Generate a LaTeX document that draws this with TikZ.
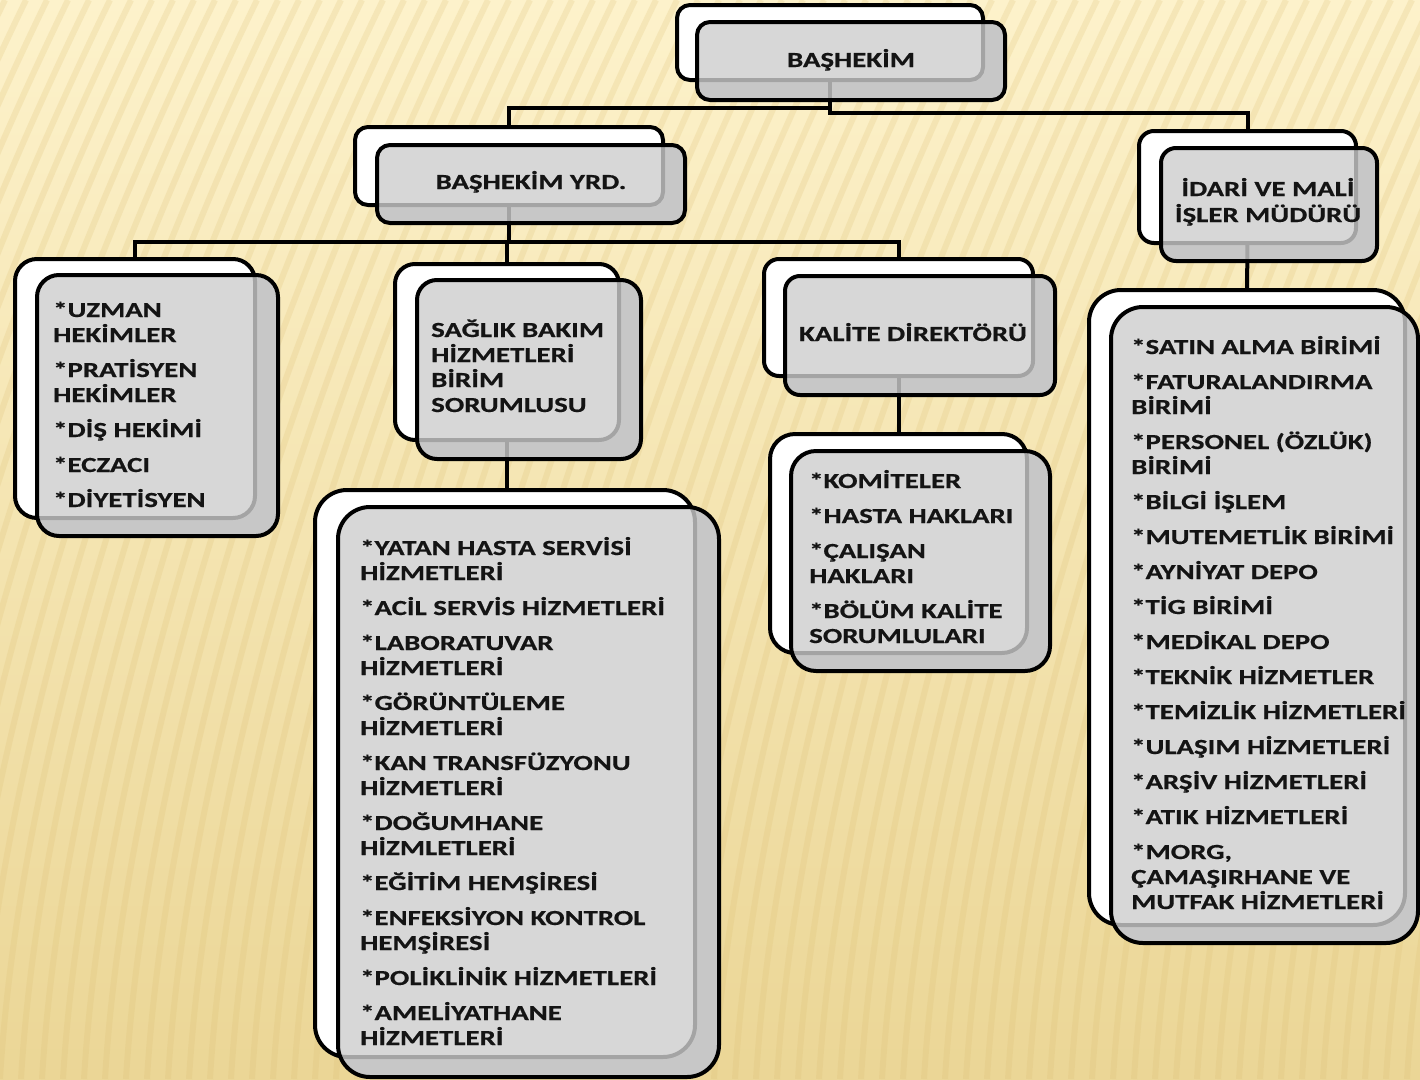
\documentclass[tikz,border=0pt]{standalone}
\usepackage{fontspec}
\setmainfont{Carlito}[FakeStretch=1.34, BoldFeatures={FakeBold=0.6}]
\usetikzlibrary{calc}
\definecolor{bgtop}{HTML}{FDF2CB}
\definecolor{bgmid}{HTML}{FBEBBD}
\definecolor{bgbot}{HTML}{EBD696}
\definecolor{stripe}{HTML}{DDBF74}
\definecolor{boxgray}{HTML}{CDCDCD}
\definecolor{undergray}{HTML}{B3B3B3}
\definecolor{txt}{HTML}{141414}
\tikzset{
  backbox/.style={draw=black, line width=4pt, fill=white, rounded corners=#1,
    inner sep=0pt, outer sep=0pt, anchor=north west},
  underbox/.style={fill=undergray, rounded corners=#1,
    inner sep=0pt, outer sep=0pt, anchor=north west},
  frontface/.style={draw=black, line width=4pt, fill=boxgray, fill opacity=0.8,
    rounded corners=#1},
  conn/.style={draw=black, line width=4pt},
  lbl/.style={font=\fontsize{21.5}{25}\selectfont\bfseries, text=txt, inner sep=0pt},
}
\newcommand{\lst}[1]{\parbox[t]{330pt}{\raggedright\fontsize{21.5}{25}\selectfont\bfseries #1}}
\begin{document}
\begin{tikzpicture}[x=1pt,y=-1pt]
\useasboundingbox (0,0) rectangle (1420,1079);
\begin{scope}
\clip (0,0) rectangle (1420,1079);
\shade[top color=bgtop, middle color=bgmid, bottom color=bgbot] (0,0) rectangle (1420,1079);
\foreach \i in {-20,...,80}{
  \draw[stripe, line width=6pt, opacity=0.22]
    (\i*21,1079) .. controls (\i*21+20,750) and (\i*21+150,350) .. (\i*21+320,0);
}

% front boxes (solid underlay, named)
\node[underbox=13pt, minimum width=308pt, minimum height=78pt] (ftop) at (697,22) {};
\node[underbox=13pt, minimum width=308pt, minimum height=78pt] (fyrd) at (377,145) {};
\node[underbox=15pt, minimum width=216pt, minimum height=113pt] (fidari) at (1161,148) {};
\node[underbox=22pt, minimum width=241pt, minimum height=261pt] (fleft) at (37,275) {};
\node[underbox=20pt, minimum width=224pt, minimum height=179pt] (fsag) at (417,280) {};
\node[underbox=15pt, minimum width=270pt, minimum height=119pt] (fkal) at (785,276) {};
\node[underbox=25pt, minimum width=259pt, minimum height=220pt] (fkom) at (791,451) {};
\node[underbox=32pt, minimum width=381pt, minimum height=570pt] (fsl) at (338,507) {};
\node[underbox=32pt, minimum width=307pt, minimum height=636pt] (fright) at (1111,307) {};

% back boxes
\node[backbox=13pt, minimum width=306pt, minimum height=75pt] (btop) at (677,5) {};
\node[backbox=13pt, minimum width=308pt, minimum height=78pt] (byrd) at (355,127) {};
\node[backbox=15pt, minimum width=217pt, minimum height=112pt] (bidari) at (1139,131) {};
\node[backbox=22pt, minimum width=240pt, minimum height=259pt] (bleft) at (15,259) {};
\node[backbox=20pt, minimum width=224pt, minimum height=176pt] (bsag) at (395,264) {};
\node[backbox=15pt, minimum width=269pt, minimum height=117pt] (bkal) at (764,259) {};
\node[backbox=25pt, minimum width=257pt, minimum height=219pt] (bkom) at (770,434) {};
\node[backbox=32pt, minimum width=380pt, minimum height=567pt] (bsl) at (315,490) {};
\node[backbox=32pt, minimum width=316pt, minimum height=635pt] (bright) at (1089,290) {};

% connectors
\coordinate (j1) at (830,108);
\coordinate (j2) at (830,113);
\coordinate (j3) at (509,242);
\draw[conn] (btop.south) -- (j2) -| (bidari.north);
\draw[conn] (byrd.north) |- (j1);
\draw[conn] (byrd.south) -- (j3);
\draw[conn] (bleft.north) |- (j3) -| (bkal.north);
\draw[conn] (bsag.north) -- (bsag.north |- j3);
\draw[conn] (bsag.south) -- (bsag.south |- bsl.north);
\draw[conn] (bkal.south) -- (bkom.north);
\draw[conn] (bidari.south) -- (bright.north);

% front faces (translucent)
\draw[frontface=13pt] (ftop.north west) rectangle (ftop.south east);
\draw[frontface=13pt] (fyrd.north west) rectangle (fyrd.south east);
\draw[frontface=15pt] (fidari.north west) rectangle (fidari.south east);
\draw[frontface=22pt] (fleft.north west) rectangle (fleft.south east);
\draw[frontface=20pt] (fsag.north west) rectangle (fsag.south east);
\draw[frontface=15pt] (fkal.north west) rectangle (fkal.south east);
\draw[frontface=25pt] (fkom.north west) rectangle (fkom.south east);
\draw[frontface=32pt] (fsl.north west) rectangle (fsl.south east);
\draw[frontface=32pt] (fright.north west) rectangle (fright.south east);
\end{scope}

% texts
\node[lbl, anchor=base] (ttop) at (851,67) {BAŞHEKİM};
\node[lbl, anchor=base] (tyrd) at (531,189) {BAŞHEKİM YRD.};
\node[lbl, anchor=base] (tidari1) at (1268,196) {İDARİ VE MALİ};
\node[lbl, anchor=base] (tidari2) at (1268,222) {İŞLER MÜDÜRÜ};
\node[lbl, anchor=base] (tkal) at (913,341) {KALİTE DİREKTÖRÜ};
\node[lbl, anchor=base west] (tsag) at (431,337)
  {\lst{SAĞLIK BAKIM\\HİZMETLERİ\\BİRİM\\SORUMLUSU}};
\node[lbl, anchor=base west] (tleft) at (53,317)
  {\lst{*UZMAN\\HEKİMLER\\[10pt]*PRATİSYEN\\HEKİMLER\\[10pt]*DİŞ HEKİMİ\\[10pt]*ECZACI\\[10pt]*DİYETİSYEN}};
\node[lbl, anchor=base west] (tkom) at (809,488)
  {\lst{*KOMİTELER\\[10pt]*HASTA HAKLARI\\[10pt]*ÇALIŞAN\\HAKLARI\\[10pt]*BÖLÜM KALİTE\\SORUMLULARI}};
\node[lbl, anchor=base west] (tsl) at (360,555)
  {\lst{*YATAN HASTA SERVİSİ\\HİZMETLERİ\\[10pt]*ACİL SERVİS HİZMETLERİ\\[10pt]*LABORATUVAR\\HİZMETLERİ\\[10pt]*GÖRÜNTÜLEME\\HİZMETLERİ\\[10pt]*KAN TRANSFÜZYONU\\HİZMETLERİ\\[10pt]*DOĞUMHANE\\HİZMLETLERİ\\[10pt]*EĞİTİM HEMŞİRESİ\\[10pt]*ENFEKSİYON KONTROL\\HEMŞİRESİ\\[10pt]*POLİKLİNİK HİZMETLERİ\\[10pt]*AMELİYATHANE\\HİZMETLERİ}};
\node[lbl, anchor=base west] (tright) at (1131,354)
  {\lst{*SATIN ALMA BİRİMİ\\[10pt]*FATURALANDIRMA\\BİRİMİ\\[10pt]*PERSONEL (ÖZLÜK)\\BİRİMİ\\[10pt]*BİLGİ İŞLEM\\[10pt]*MUTEMETLİK BİRİMİ\\[10pt]*AYNİYAT DEPO\\[10pt]*TİG BİRİMİ\\[10pt]*MEDİKAL DEPO\\[10pt]*TEKNİK HİZMETLER\\[10pt]*TEMİZLİK HİZMETLERİ\\[10pt]*ULAŞIM HİZMETLERİ\\[10pt]*ARŞİV HİZMETLERİ\\[10pt]*ATIK HİZMETLERİ\\[10pt]*MORG,\\ÇAMAŞIRHANE VE\\MUTFAK HİZMETLERİ}};
\end{tikzpicture}
\end{document}
